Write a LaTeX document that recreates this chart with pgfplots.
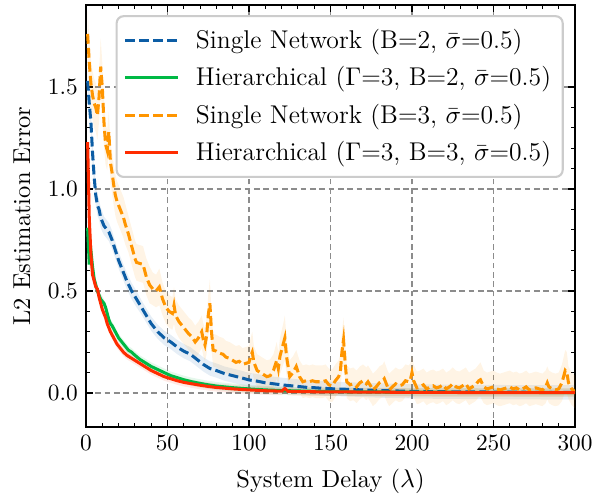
\documentclass[border=0pt]{standalone}
\usepackage{pgfplots}
\pgfplotsset{compat=1.18}
\usepackage{pgfplotstable}
\usepgfplotslibrary{fillbetween}
\definecolor{sblue}{HTML}{0C5DA5}
\definecolor{sgreen}{HTML}{00B945}
\definecolor{sorange}{HTML}{FF9500}
\definecolor{sred}{HTML}{FF2C00}
\definecolor{gridgray}{HTML}{8C8C8C}

\pgfplotstableread{
x y w
1 1.53 0.06
2 1.42 0.06
3 1.33 0.06
4 1.18 0.06
5 1.06 0.05
6 0.97 0.05
7 0.92 0.05
8 0.90 0.05
9 0.86 0.05
10 0.84 0.05
11 0.82 0.045
13 0.80 0.045
14 0.79 0.045
16 0.75 0.045
18 0.70 0.04
20 0.65 0.04
22 0.61 0.04
25 0.55 0.04
28 0.50 0.04
31 0.46 0.04
34 0.42 0.035
37 0.38 0.035
40 0.34 0.035
44 0.30 0.035
48 0.27 0.035
52 0.25 0.035
56 0.225 0.035
60 0.205 0.035
64 0.19 0.035
68 0.165 0.035
72 0.14 0.035
76 0.12 0.035
80 0.11 0.035
85 0.095 0.035
90 0.085 0.035
95 0.075 0.035
100 0.064 0.035
105 0.058 0.035
110 0.05 0.035
115 0.045 0.035
120 0.04 0.035
125 0.036 0.035
130 0.032 0.035
135 0.028 0.035
140 0.026 0.035
145 0.023 0.035
150 0.021 0.035
160 0.018 0.035
170 0.015 0.035
180 0.012 0.035
190 0.010 0.035
200 0.008 0.035
220 0.006 0.035
240 0.005 0.035
260 0.004 0.035
280 0.003 0.035
300 0.003 0.035
}\singleA

\pgfplotstableread{
x y w
1 0.81 0.03
2 0.63 0.03
3 0.70 0.03
4 0.62 0.03
5 0.56 0.025
6 0.53 0.025
7 0.50 0.025
8 0.48 0.025
9 0.46 0.025
10 0.45 0.025
11 0.44 0.02
12 0.42 0.02
13 0.39 0.02
14 0.36 0.02
15 0.34 0.02
16 0.33 0.02
18 0.30 0.02
20 0.27 0.02
22 0.25 0.02
24 0.23 0.02
26 0.21 0.02
28 0.20 0.02
30 0.185 0.02
33 0.165 0.02
36 0.15 0.02
40 0.13 0.02
44 0.115 0.02
48 0.10 0.02
52 0.085 0.02
56 0.075 0.02
60 0.065 0.02
65 0.055 0.02
70 0.047 0.02
75 0.040 0.02
80 0.034 0.02
90 0.026 0.02
100 0.020 0.02
110 0.015 0.02
120 0.012 0.02
140 0.008 0.02
160 0.006 0.02
200 0.004 0.02
250 0.003 0.02
300 0.002 0.02
}\hierA

\pgfplotstableread{
x y w
1 1.76 0.12
2 1.62 0.12
3 1.52 0.12
4 1.46 0.12
5 1.42 0.12
6 1.40 0.12
7 1.36 0.12
8 1.45 0.12
9 1.60 0.14
10 1.50 0.12
11 1.33 0.12
12 1.22 0.10
13 1.19 0.10
14 1.28 0.10
15 1.13 0.10
16 1.08 0.10
17 1.02 0.10
18 0.97 0.10
19 0.94 0.10
20 0.92 0.10
21 0.90 0.10
22 0.88 0.10
23 0.86 0.10
24 0.83 0.10
26 0.78 0.09
28 0.72 0.09
30 0.66 0.09
31 0.64 0.09
33 0.635 0.09
35 0.63 0.09
37 0.57 0.09
39 0.53 0.09
41 0.51 0.08
43 0.50 0.08
45 0.52 0.09
47 0.46 0.08
49 0.42 0.08
51 0.40 0.08
53 0.39 0.08
54 0.43 0.09
55 0.38 0.08
57 0.35 0.08
59 0.33 0.08
61 0.31 0.08
63 0.29 0.08
65 0.275 0.08
67 0.25 0.08
69 0.27 0.08
71 0.30 0.08
72 0.26 0.08
73 0.235 0.08
74 0.28 0.09
75 0.38 0.10
76 0.44 0.12
77 0.30 0.09
78 0.21 0.08
80 0.205 0.08
82 0.195 0.08
84 0.19 0.08
86 0.175 0.08
88 0.17 0.08
90 0.16 0.08
92 0.15 0.08
94 0.155 0.08
96 0.14 0.08
98 0.145 0.08
100 0.15 0.08
101 0.18 0.09
102 0.20 0.10
103 0.15 0.08
105 0.11 0.08
107 0.10 0.08
109 0.09 0.08
111 0.08 0.08
113 0.085 0.08
115 0.11 0.08
117 0.16 0.09
118 0.12 0.08
119 0.18 0.09
121 0.24 0.10
122 0.27 0.11
123 0.18 0.09
125 0.08 0.08
127 0.10 0.08
129 0.13 0.08
131 0.08 0.08
133 0.055 0.08
135 0.06 0.08
137 0.055 0.08
139 0.06 0.08
141 0.055 0.08
143 0.055 0.08
145 0.055 0.08
147 0.06 0.08
149 0.04 0.08
151 0.035 0.08
153 0.06 0.08
155 0.08 0.08
156 0.10 0.09
157 0.20 0.10
158 0.26 0.11
159 0.15 0.09
160 0.055 0.08
162 0.04 0.08
164 0.045 0.08
166 0.03 0.08
168 0.05 0.08
170 0.06 0.08
172 0.045 0.08
173 0.055 0.08
175 0.03 0.08
176 0.015 0.08
178 0.03 0.08
180 0.05 0.08
182 0.06 0.08
183 0.07 0.085
185 0.03 0.08
186 0.015 0.08
188 0.03 0.08
190 0.045 0.08
192 0.035 0.08
194 0.04 0.08
196 0.06 0.08
198 0.055 0.08
199 0.065 0.08
200 0.10 0.09
201 0.06 0.08
203 0.025 0.08
205 0.03 0.08
207 0.04 0.08
209 0.02 0.08
211 0.03 0.08
213 0.035 0.08
215 0.025 0.08
217 0.03 0.08
219 0.04 0.08
221 0.02 0.08
223 0.03 0.08
225 0.045 0.08
227 0.03 0.08
229 0.025 0.08
231 0.035 0.08
233 0.045 0.08
235 0.02 0.08
237 0.03 0.08
239 0.04 0.08
241 0.06 0.08
242 0.065 0.085
244 0.03 0.08
246 0.02 0.08
248 0.025 0.08
250 0.03 0.08
252 0.02 0.08
254 0.015 0.08
256 0.02 0.08
258 0.025 0.08
260 0.03 0.08
262 0.02 0.08
264 0.025 0.08
266 0.015 0.08
268 0.02 0.08
270 0.03 0.08
272 0.015 0.08
274 0.02 0.08
276 0.025 0.08
278 0.02 0.08
280 0.015 0.08
282 0.03 0.08
283 0.05 0.08
284 0.03 0.08
286 0.02 0.08
288 0.015 0.08
290 0.02 0.08
292 0.05 0.09
294 0.11 0.10
295 0.10 0.10
296 0.05 0.08
298 0.02 0.08
300 0.005 0.08
}\singleB

\pgfplotstableread{
x y w
1 1.23 0.03
2 0.86 0.03
3 0.68 0.03
4 0.58 0.03
5 0.55 0.025
6 0.52 0.025
7 0.51 0.025
8 0.47 0.025
9 0.44 0.025
10 0.41 0.025
11 0.39 0.02
12 0.37 0.02
13 0.34 0.02
14 0.32 0.02
15 0.30 0.02
17 0.27 0.02
19 0.24 0.02
21 0.22 0.02
23 0.20 0.02
25 0.185 0.02
28 0.17 0.02
31 0.155 0.02
34 0.14 0.02
37 0.125 0.02
40 0.11 0.02
44 0.095 0.02
48 0.08 0.02
52 0.07 0.02
56 0.06 0.02
60 0.052 0.02
65 0.045 0.02
70 0.038 0.02
75 0.032 0.02
80 0.027 0.02
90 0.020 0.02
100 0.015 0.02
110 0.011 0.02
120 0.009 0.02
122 0.022 0.02
124 0.008 0.02
140 0.006 0.02
160 0.005 0.02
200 0.003 0.02
250 0.002 0.02
300 0.002 0.02
}\hierB

\begin{document}
\begin{tikzpicture}
\begin{axis}[
  scale only axis,
  width=209.6pt, height=180.9pt,
  xmin=0, xmax=300, ymin=-0.167, ymax=1.902,
  xtick={0,50,100,150,200,250,300},
  ytick={0,0.5,1.0,1.5},
  minor x tick num=4,
  minor y tick num=4,
  yticklabel style={/pgf/number format/fixed,/pgf/number format/fixed zerofill,/pgf/number format/precision=1},
  tick align=inside,
  xtick pos=both, ytick pos=both,
  major tick length=3.2pt, minor tick length=1.8pt,
  every tick/.style={black, line width=0.5pt},
  axis line style={line width=0.9pt},
  grid=major,
  major grid style={gridgray, line width=0.5pt, dash pattern=on 2.5pt off 1.5pt},
  tick label style={font=\fontsize{10}{12}\selectfont},
  label style={font=\fontsize{10.5}{12}\selectfont},
  xlabel={System Delay ($\lambda$)},
  ylabel={L2 Estimation Error},
  xlabel style={at={(rel axis cs:0.5,0)}, anchor=base, yshift=-25.7pt},
  ylabel style={at={(rel axis cs:-0.1309,0.5)}, anchor=center},
  legend style={at={(rel axis cs:0.977,0.976)}, anchor=north east,
    draw=black!20, line width=0.9pt, rounded corners=3pt, fill=white,
    font=\fontsize{11}{13}\selectfont, row sep=2.3pt, inner xsep=3pt, inner ysep=3.5pt,
    cells={anchor=west},
    /tikz/every odd column/.append style={column sep=5pt}},
  legend image code/.code={\draw[#1, line width=1.3pt] (0pt,0pt) -- (22.7pt,0pt);},
]
% bands
\addplot[draw=none, name path=a1, forget plot] table[x=x, y expr=\thisrow{y}+\thisrow{w}] {\singleA};
\addplot[draw=none, name path=a2, forget plot] table[x=x, y expr=\thisrow{y}-\thisrow{w}] {\singleA};
\addplot[sblue, fill opacity=0.1, draw=none, forget plot] fill between[of=a1 and a2];
\addplot[draw=none, name path=b1, forget plot] table[x=x, y expr=\thisrow{y}+\thisrow{w}] {\hierA};
\addplot[draw=none, name path=b2, forget plot] table[x=x, y expr=\thisrow{y}-\thisrow{w}] {\hierA};
\addplot[sgreen, fill opacity=0.1, draw=none, forget plot] fill between[of=b1 and b2];
\addplot[draw=none, name path=c1, forget plot] table[x=x, y expr=\thisrow{y}+\thisrow{w}] {\singleB};
\addplot[draw=none, name path=c2, forget plot] table[x=x, y expr=\thisrow{y}-\thisrow{w}] {\singleB};
\addplot[sorange, fill opacity=0.1, draw=none, forget plot] fill between[of=c1 and c2];
\addplot[draw=none, name path=d1, forget plot] table[x=x, y expr=\thisrow{y}+\thisrow{w}] {\hierB};
\addplot[draw=none, name path=d2, forget plot] table[x=x, y expr=\thisrow{y}-\thisrow{w}] {\hierB};
\addplot[sred, fill opacity=0.1, draw=none, forget plot] fill between[of=d1 and d2];
% lines
\addplot[sblue, line width=1.3pt, dash pattern=on 4.2pt off 1.8pt] table[x=x,y=y] {\singleA};
\addlegendentry{Single Network (B=2, $\bar{\sigma}$=0.5)}
\addplot[sgreen, line width=1.3pt] table[x=x,y=y] {\hierA};
\addlegendentry{Hierarchical ($\Gamma$=3, B=2, $\bar{\sigma}$=0.5)}
\addplot[sorange, line width=1.3pt, dash pattern=on 4.2pt off 1.8pt] table[x=x,y=y] {\singleB};
\addlegendentry{Single Network (B=3, $\bar{\sigma}$=0.5)}
\addplot[sred, line width=1.3pt] table[x=x,y=y] {\hierB};
\addlegendentry{Hierarchical ($\Gamma$=3, B=3, $\bar{\sigma}$=0.5)}
\coordinate (sw) at (rel axis cs:0,0);
\coordinate (ne) at (rel axis cs:1,1);
\end{axis}
\pgfresetboundingbox
\path[use as bounding box] ([shift={(-36.86pt,-28.71pt)}]sw) rectangle ([shift={(8.14pt,2.14pt)}]ne);
\end{tikzpicture}
\end{document}
